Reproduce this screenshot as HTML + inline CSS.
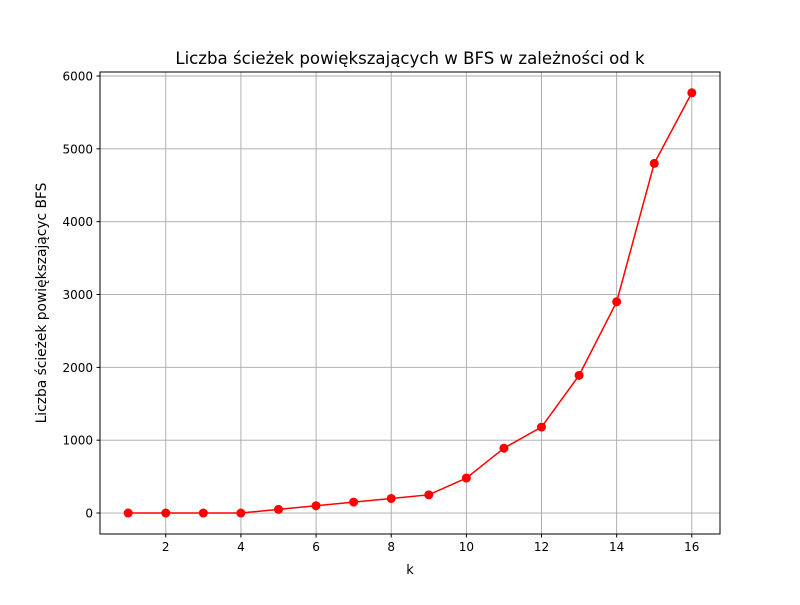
<!DOCTYPE html>
<html><head><meta charset="utf-8"><style>
body{margin:0;background:#fff}
svg text{font-family:"DejaVu Sans","Liberation Sans",sans-serif;fill:#000}
</style></head><body>
<svg id="chart" width="800" height="600" xmlns="http://www.w3.org/2000/svg">
<rect width="800" height="600" fill="#fff"/>
<g id="grid"></g><g id="ticks"></g><g id="series"></g>
<rect x="100" y="72" width="620" height="462" fill="none" stroke="#000" stroke-width="1"/>
<text x="410" y="64" font-size="16.6" text-anchor="middle">Liczba ścieżek powiększających w BFS w zależności od k</text>
<text x="410" y="574" font-size="13" text-anchor="middle">k</text>
<text transform="translate(46,303) rotate(-90)" font-size="13.8" text-anchor="middle">Liczba ścieżek powiększającyc BFS</text>
</svg>
<script>
const kValues=[1,2,3,4,5,6,7,8,9,10,11,12,13,14,15,16];
const pathCounts=[0,0,0,0,50,100,150,200,250,480,890,1180,1890,2900,4800,5770];
const xTicks=[2,4,6,8,10,12,14,16];
const yTicks=[0,1000,2000,3000,4000,5000,6000];
const L=100,R=720,T=72,B=534,xMin=0.25,xMax=16.75,yMin=-288,yMax=6055;
const sx=v=>L+(v-xMin)/(xMax-xMin)*(R-L);
const sy=v=>B-(v-yMin)/(yMax-yMin)*(B-T);
const NS="http://www.w3.org/2000/svg";
function mk(tag,attrs,parent){const e=document.createElementNS(NS,tag);for(const k in attrs)e.setAttribute(k,attrs[k]);parent.appendChild(e);return e;}
const grid=document.getElementById('grid'),ticks=document.getElementById('ticks'),series=document.getElementById('series');
xTicks.forEach(t=>{const x=sx(t);
 let g=mk('line',{x1:x,x2:x,y1:T,y2:B,stroke:'#a8a8a8','stroke-width':0.9},grid);
 
 
 let m=mk('line',{x1:x,x2:x,y1:B,y2:B+3.5,stroke:'#000'},ticks);
 
 
 let l=mk('text',{x:x,y:B+17,'font-size':12,'text-anchor':'middle'},ticks);l.textContent=t;
 
 
});
yTicks.forEach(t=>{const y=sy(t);
 let g=mk('line',{x1:L,x2:R,y1:y,y2:y,stroke:'#a8a8a8','stroke-width':0.9},grid);
 
 
 let m=mk('line',{x1:L-3.5,x2:L,y1:y,y2:y,stroke:'#000'},ticks);
 
 
 let l=mk('text',{x:L-7,y:y+4.5,'font-size':12,'text-anchor':'end'},ticks);l.textContent=t;
 
 
});
const pts=kValues.map((k,i)=>sx(k)+','+sy(pathCounts[i])).join(' ');
let pl=mk('polyline',{points:pts,fill:'none',stroke:'#ff0000','stroke-width':1.5},series);


kValues.forEach((k,i)=>{let c=mk('circle',{cx:sx(k),cy:sy(pathCounts[i]),r:4.5,fill:'#ff0000'},series);
 
 
});
</script>
</body></html>
